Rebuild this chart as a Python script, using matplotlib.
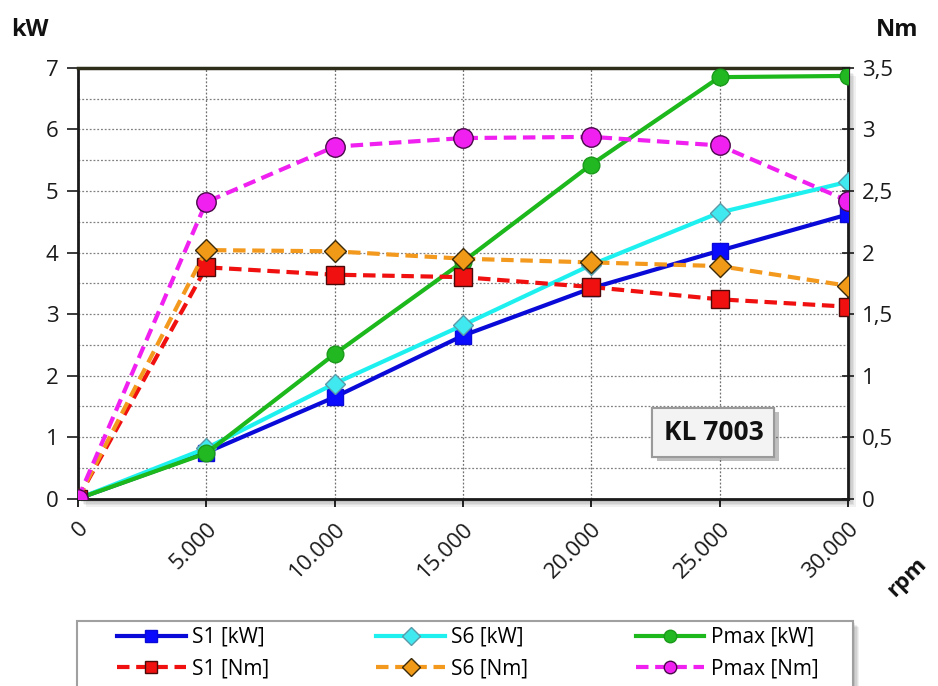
import matplotlib
matplotlib.use("Agg")
from matplotlib import pyplot as plt
from matplotlib import patches
import matplotlib.patheffects as pe

plt.rcParams['font.family'] = ['Open Sans', 'DejaVu Sans']

# data
rpm = [0, 5000, 10000, 15000, 20000, 25000, 30000]
x_labels = ['0', '5.000', '10.000', '15.000', '20.000', '25.000', '30.000']

s1_kw = [0, 0.75, 1.65, 2.65, 3.42, 4.03, 4.62]
s6_kw = [0, 0.82, 1.87, 2.82, 3.80, 4.65, 5.15]
pmax_kw = [0, 0.74, 2.35, 3.85, 5.43, 6.85, 6.87]

s1_nm = [0, 1.88, 1.82, 1.80, 1.72, 1.62, 1.56]
s6_nm = [0, 2.02, 2.01, 1.95, 1.92, 1.89, 1.73]
pmax_nm = [0, 2.41, 2.86, 2.93, 2.94, 2.87, 2.42]

kw_ticks = [0, 1, 2, 3, 4, 5, 6, 7]
nm_ticks = [0, 0.5, 1, 1.5, 2, 2.5, 3, 3.5]
nm_labels = ['0', '0,5', '1', '1,5', '2', '2,5', '3', '3,5']

W, H = 938, 686
fig = plt.figure(figsize=(W / 100, H / 100), dpi=100)
ax = fig.add_axes([0.083, 0.273, 0.821, 0.628])


def soft_shadow(x0, y0, w, h, depth=8):
    # stacked translucent boxes, shifted right/down, in pixels
    for i, a in enumerate([0.06, 0.06, 0.07, 0.08, 0.09]):
        off = depth - i * depth / 5
        fig.patches.append(patches.Rectangle(
            ((x0 + off) / W, 1 - (y0 + h + off) / H), w / W, h / H,
            transform=fig.transFigure, facecolor='black', alpha=a,
            edgecolor='none', zorder=0))


# shadow behind the plot area
soft_shadow(78, 68, 770, 431)

ax.set_zorder(1)
ax.set_xlim(0, 30000)
ax.set_ylim(0, 7)
ax.set_xticks(rpm)
ax.set_xticklabels(x_labels, rotation=45, ha='right', va='top',
                   rotation_mode='anchor', fontsize=16, color='#1a1a1a')
ax.set_yticks(kw_ticks)
ax.set_yticks([0.5 + k for k in range(7)], minor=True)
ax.tick_params(axis='y', which='major', labelsize=16, length=8, width=1.2,
               colors='#1a1a1a', pad=6)
ax.tick_params(axis='y', which='minor', length=0)
ax.tick_params(axis='x', length=6, width=1.2, pad=8)
ax.grid(True, which='both', axis='y', color='#808080', linestyle=(0, (1.5, 1.5)), linewidth=0.9)
ax.grid(True, which='major', axis='x', color='#707070', linestyle=(0, (1.5, 1.5)), linewidth=0.9)
for side in ['left', 'bottom', 'right']:
    ax.spines[side].set_linewidth(2)
    ax.spines[side].set_color('#1a1a1a')
ax.spines['top'].set_linewidth(2.5)
ax.spines['top'].set_color('#2e2e1a')

l1, = ax.plot(rpm, s1_kw, color='#0a0ad8', lw=3, marker='s', ms=11,
              mfc='#0a0aff', mec='#0a0ad8', label='S1 [kW]', zorder=3)
l2, = ax.plot(rpm, s6_kw, color='#1ef0f0', lw=3, marker='D', ms=10,
              mfc='#40e8f0', mec='#5a9aa8', label='S6 [kW]', zorder=4)
l3, = ax.plot(rpm, pmax_kw, color='#1cb81c', lw=3, marker='o', ms=12,
              mfc='#22b822', mec='#1a9a1a', label='Pmax [kW]', zorder=5)

ax2 = ax.twinx()
ax2.set_ylim(0, 3.5)
ax2.set_yticks(nm_ticks)
ax2.set_yticklabels(nm_labels)
ax2.tick_params(axis='y', labelsize=16, length=8, width=1.2, direction='inout',
                colors='#1a1a1a', pad=6)
for side in ax2.spines:
    ax2.spines[side].set_visible(False)

dash = (0, (3, 1.6))
l4, = ax2.plot(rpm, s1_nm, color='#f01010', lw=3, ls=dash, marker='s', ms=13,
               mfc='#f01010', mec='#4a0a0a', label='S1 [Nm]', zorder=3)
l5, = ax2.plot(rpm, s6_nm, color='#f39a1e', lw=3, ls=dash, marker='D', ms=11,
               mfc='#f09a18', mec='#3a2a0a', label='S6 [Nm]', zorder=4)
l6, = ax2.plot(rpm, pmax_nm, color='#f020f0', lw=3, ls=dash, marker='o', ms=14,
               mfc='#f020f0', mec='#4a0a4a', label='Pmax [Nm]', zorder=5)

# model label box
t = ax2.text(24760, 0.54, 'KL 7003', fontsize=19, fontweight='bold',
             ha='center', va='center', color='#111111', zorder=6,
             bbox=dict(boxstyle='square,pad=0.42', fc='#f3f3f3', ec='#9a9a9a', lw=1.5))
t.get_bbox_patch().set_path_effects([pe.withSimplePatchShadow(offset=(3, -3), alpha=0.35),
                                     pe.Normal()])

fig.text(0.012, 0.947, 'kW', fontsize=17, fontweight='bold', color='#111111')
fig.text(0.934, 0.947, 'Nm', fontsize=17, fontweight='bold', color='#111111')
fig.text(0.967, 0.158, 'rpm', fontsize=16, fontweight='bold', rotation=45,
         ha='center', va='center', color='#111111')

# legend frame drawn separately so the entries sit centred inside it
soft_shadow(77, 621, 776, 70, depth=6)
fig.patches.append(patches.Rectangle(
    (77 / W, 1 - 691 / H), 776 / W, 70 / H, transform=fig.transFigure,
    facecolor='white', edgecolor='#a0a0a0', lw=1.5, zorder=1))

leg = fig.legend(handles=[l1, l4, l2, l5, l3, l6], ncol=3,
                 loc='upper left', bbox_to_anchor=(117 / W, 1 - 627 / H),
                 frameon=False, fontsize=15,
                 handlelength=3.3, columnspacing=5.15, labelspacing=0.5,
                 borderpad=0, borderaxespad=0, handletextpad=0.3)
leg.set_zorder(2)
for h in leg.legend_handles:
    h.set_markersize(9)

fig.savefig('out.png', dpi=100)
